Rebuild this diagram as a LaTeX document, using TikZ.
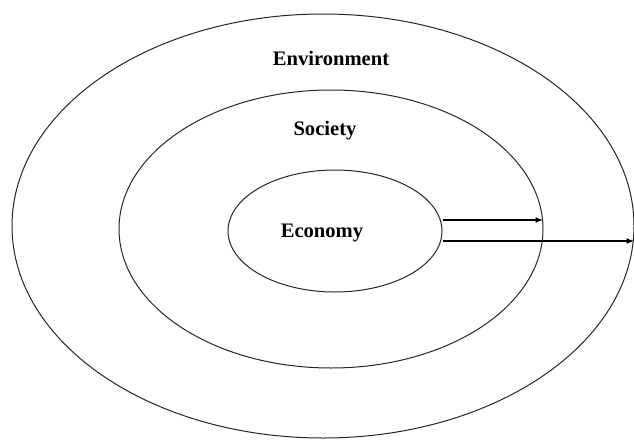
\documentclass[tikz,border=0pt]{standalone}
\usepackage{fontspec}
\setmainfont{Liberation Serif}
\usetikzlibrary{shapes.geometric,arrows.meta}
\begin{document}
\begin{tikzpicture}[x=1pt,y=-1pt,
  ring/.style={draw=black!85,line width=1pt,ellipse,inner sep=0pt,minimum width=#1},
  lbl/.style={anchor=base,inner sep=0pt,font=\fontsize{20.6}{24}\selectfont\bfseries},
  flow/.style={draw=black,line width=1.6pt,-{Latex[length=8pt,width=6pt]}}]
  \useasboundingbox (0,0) rectangle (634,439);
  % three nested spheres
  \node[ring=622pt,minimum height=424pt] (outer)  at (323,226) {};
  \node[ring=424pt,minimum height=278pt] (middle) at (331,229) {};
  \node[ring=214pt,minimum height=122pt] (inner)  at (335,231) {};
  % labels
  \node[lbl] (env) at (331,65)  {Environment};
  \node[lbl] (soc) at (325,135) {Society};
  \node[lbl] (eco) at (322,237) {Economy};
  % outward impacts of the economy
  \draw[flow] (inner.east |- 0,220) -- (middle.east |- 0,220);
  \draw[flow] (inner.east |- 0,241) -- (outer.east |- 0,241);
\end{tikzpicture}
\end{document}
